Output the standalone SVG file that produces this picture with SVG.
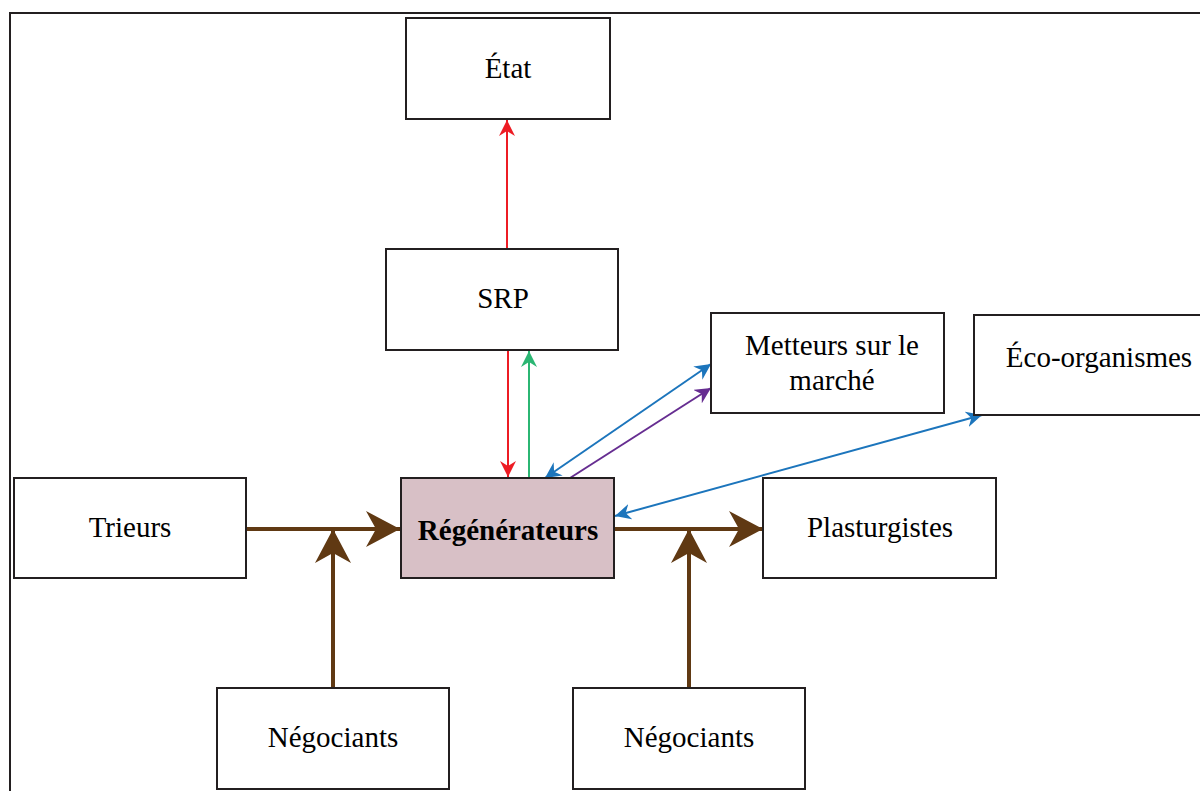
<svg xmlns="http://www.w3.org/2000/svg" width="1200" height="791" viewBox="0 0 1200 791">
<style>
.box{fill:#fff;stroke:#231f20;stroke-width:2}
.t{font-family:"Liberation Serif","Times New Roman",serif;font-size:29px;fill:#000;text-anchor:middle}
.c{fill:none;stroke-width:2}
.br{fill:none;stroke:#603913;stroke-width:4}
</style>
<defs>
<marker id="aRed" viewBox="0 0 16 16" refX="16" refY="8" markerWidth="16" markerHeight="16" markerUnits="userSpaceOnUse" orient="auto-start-reverse"><path d="M0,0 L16,8 L0,16 L5,8 Z" fill="#ed1c24"/></marker>
<marker id="aGreen" viewBox="0 0 16 16" refX="16" refY="8" markerWidth="16" markerHeight="16" markerUnits="userSpaceOnUse" orient="auto-start-reverse"><path d="M0,0 L16,8 L0,16 L5,8 Z" fill="#2bb673"/></marker>
<marker id="aBlue" viewBox="0 0 16 16" refX="16" refY="8" markerWidth="16" markerHeight="16" markerUnits="userSpaceOnUse" orient="auto-start-reverse"><path d="M0,0 L16,8 L0,16 L5,8 Z" fill="#1c75bc"/></marker>
<marker id="aPurple" viewBox="0 0 16 16" refX="16" refY="8" markerWidth="16" markerHeight="16" markerUnits="userSpaceOnUse" orient="auto-start-reverse"><path d="M0,0 L16,8 L0,16 L5,8 Z" fill="#662d91"/></marker>
<marker id="aBrown" viewBox="0 0 34 36" refX="34" refY="18" markerWidth="34" markerHeight="36" markerUnits="userSpaceOnUse" orient="auto"><path d="M0,0 L34,18 L0,36 L10,18 Z" fill="#603913"/></marker>
</defs>
<rect width="1200" height="791" fill="#fff"/>
<rect x="10" y="13" width="1210" height="800" fill="none" stroke="#231f20" stroke-width="2"/>
<g id="connectors">
<line class="c" x1="507" y1="249" x2="507" y2="120" stroke="#ed1c24" marker-end="url(#aRed)"/>
<line class="c" x1="508" y1="351" x2="508" y2="477" stroke="#ed1c24" marker-end="url(#aRed)"/>
<line class="c" x1="529" y1="478" x2="529" y2="351" stroke="#2bb673" marker-end="url(#aGreen)"/>
<line class="c" x1="545" y1="478" x2="711" y2="364" stroke="#1c75bc" marker-start="url(#aBlue)" marker-end="url(#aBlue)"/>
<line class="c" x1="570" y1="478" x2="711" y2="388" stroke="#662d91" marker-end="url(#aPurple)"/>
<line class="c" x1="615" y1="516" x2="982" y2="415" stroke="#1c75bc" marker-start="url(#aBlue)" marker-end="url(#aBlue)"/>
<line class="br" x1="246" y1="529" x2="400" y2="529" marker-end="url(#aBrown)"/>
<line class="br" x1="333" y1="688" x2="333" y2="529" marker-end="url(#aBrown)"/>
<line class="br" x1="614" y1="529" x2="763" y2="529" marker-end="url(#aBrown)"/>
<line class="br" x1="689" y1="688" x2="689" y2="529" marker-end="url(#aBrown)"/>
</g>
<g id="etat"><rect class="box" x="406" y="18" width="204" height="101"/><text class="t" x="508" y="78">État</text></g>
<g id="srp"><rect class="box" x="386" y="249" width="232" height="101"/><text class="t" x="503" y="308">SRP</text></g>
<g id="metteurs"><rect class="box" x="711" y="313" width="233" height="100"/><text class="t" x="832" y="355">Metteurs sur le</text><text class="t" x="832" y="390">marché</text></g>
<g id="eco"><rect class="box" x="974" y="315" width="232" height="100"/><text class="t" x="1099" y="367">Éco-organismes</text></g>
<g id="trieurs"><rect class="box" x="14" y="478" width="232" height="100"/><text class="t" x="130" y="537">Trieurs</text></g>
<g id="regenerateurs"><rect x="401" y="478" width="213" height="100" fill="#d8c0c6" stroke="#231f20" stroke-width="2"/><text class="t" x="508" y="540" font-weight="bold">Régénérateurs</text></g>
<g id="plasturgistes"><rect class="box" x="763" y="478" width="233" height="100"/><text class="t" x="880" y="537">Plasturgistes</text></g>
<g id="negociants1"><rect class="box" x="217" y="688" width="232" height="101"/><text class="t" x="333" y="747">Négociants</text></g>
<g id="negociants2"><rect class="box" x="573" y="688" width="232" height="101"/><text class="t" x="689" y="747">Négociants</text></g>
</svg>
